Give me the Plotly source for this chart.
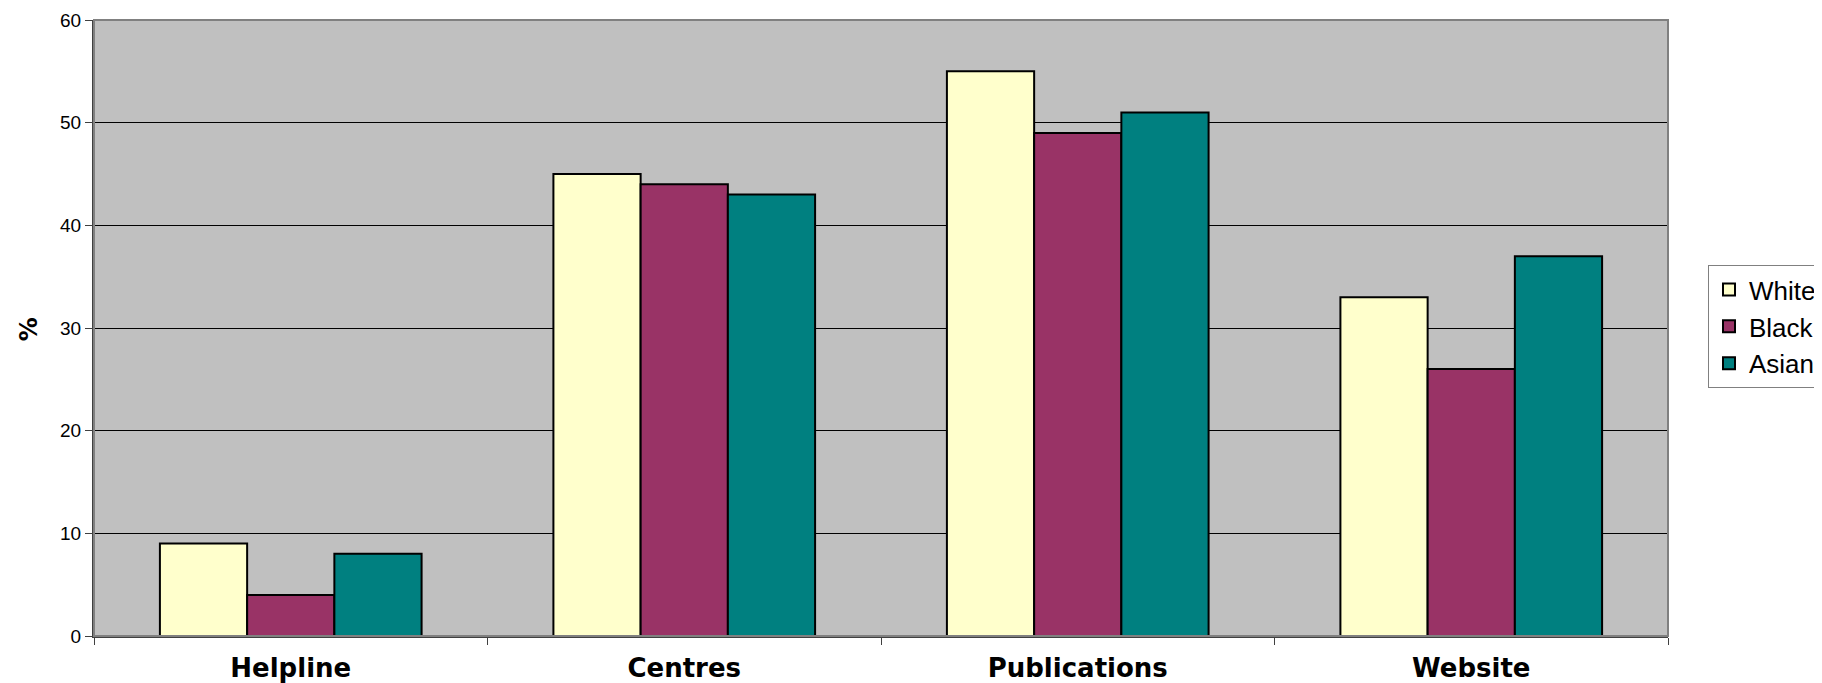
import plotly.graph_objects as go

categories = ["Helpline", "Centres", "Publications", "Website"]
white = [9, 45, 55, 33]
black = [4, 44, 49, 26]
asian = [8, 43, 51, 37]
series_names = ["White", "Black", "Asian"]
colors = ["#FFFFCC", "#993366", "#008080"]

fig = go.Figure()
for name, vals, col in zip(series_names, [white, black, asian], colors):
    fig.add_trace(go.Bar(
        x=categories, y=vals, name=name,
        marker=dict(color=col, line=dict(color="black", width=2)),
    ))

fig.update_layout(
    width=1814, height=675,
    barmode="group", bargap=0.335, bargroupgap=0,
    plot_bgcolor="#C0C0C0", paper_bgcolor="white",
    margin=dict(l=86, r=154, t=12, b=47, autoexpand=False),
    font=dict(family="Liberation Sans, Arial, sans-serif", color="black"),
    legend=dict(
        x=1.0254, y=0.602, xanchor="left", yanchor="top",
        bgcolor="white", bordercolor="#808080", borderwidth=1,
        font=dict(size=26, family="Liberation Sans, Arial, sans-serif"),
        itemwidth=30, tracegroupgap=0,
    ),
    showlegend=True,
)
fig.update_xaxes(
    automargin=False,
    showgrid=False, showline=True, linecolor="#404040", linewidth=2,
    ticks="outside", tickson="boundaries", ticklen=7, tickcolor="#404040",
    tickfont=dict(family="DejaVu Sans", size=26, color="black"),
    ticklabelstandoff=8,
    zeroline=False,
)
fig.update_xaxes(ticktext=["<b>" + c + "</b>" for c in categories], tickvals=categories)
fig.update_yaxes(
    automargin=False,
    range=[0, 60], dtick=10, showgrid=True, gridcolor="black", gridwidth=1,
    showline=True, linecolor="#404040", linewidth=2,
    ticks="outside", ticklen=7, tickcolor="#404040",
    tickfont=dict(size=19, color="black"),
    zeroline=False,
)
fig.add_annotation(text="<b>%</b>", xref="paper", yref="paper", x=0, y=0.498,
                   xanchor="center", yanchor="middle", xshift=-65, textangle=-90,
                   showarrow=False, font=dict(size=24, family="DejaVu Sans"))
fig.add_shape(type="rect", xref="paper", yref="paper", x0=0, y0=0, x1=1, y1=1,
              line=dict(color="#808080", width=2), layer="above")

fig.write_html("out.html")
